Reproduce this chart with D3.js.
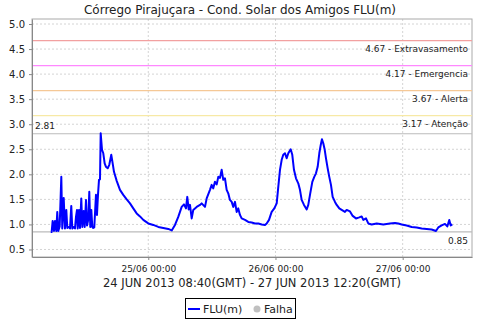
<!DOCTYPE html>
<html>
<head>
<meta charset="utf-8">
<script src="https://cdn.jsdelivr.net/npm/d3@7"></script>
<style>
body { margin: 0; background: #fff; }
text { font-family: "DejaVu Sans", sans-serif; fill: #222; }
</style>
</head>
<body>
<script>
// hours since 24/06/2013 00:00 (local time) and level in m
let hours = [5.59,5.77,5.96,6.21,6.40,6.64,6.83,7.02,7.28,7.59,7.77,8.04,8.28,8.53,8.72,8.98,9.23,9.47,9.66,9.93,
  10.17,10.36,10.55,10.68,10.93,11.11,11.36,11.55,11.81,12.00,12.25,12.44,12.68,12.87,13.06,13.25,13.44,13.62,13.81,
  14.13,14.32,14.51,14.70,14.89,15.02,15.27,15.51,15.77,16.02,16.34,16.64,17.02,17.28,17.53,18.04,18.66,19.28,19.93,
  20.55,21.17,21.81,22.44,23.06,24.00,24.94,25.89,26.83,27.77,28.42,29.04,29.66,30.30,30.74,31.11,31.36,31.62,31.87,
  32.19,32.49,33.13,33.76,34.07,34.70,35.02,35.64,35.96,36.26,36.58,36.91,37.21,37.53,37.85,38.15,38.47,38.79,39.09,
  39.41,39.74,40.04,40.36,40.68,40.98,41.30,41.62,42.25,42.87,43.51,44.13,44.76,45.40,46.02,46.34,46.78,47.28,47.78,
  48.23,48.53,48.85,49.17,49.47,49.79,50.11,50.42,50.87,51.17,51.49,51.87,52.30,52.62,52.94,53.38,53.89,54.19,54.51,
  54.95,55.32,55.64,55.96,56.27,56.53,56.77,57.02,57.29,57.53,57.85,58.15,58.47,58.79,59.23,59.55,60.04,60.49,61.11,
  61.43,62.06,62.57,63.19,63.81,64.26,64.57,65.08,65.51,66.15,67.10,68.34,69.60,70.55,71.17,71.81,72.75,73.70,74.64,
  75.58,76.53,77.47,78.28,78.72,79.36,79.98,80.42,80.79,81.06,81.36];
let flu = [0.85,0.85,1.07,0.87,1.07,0.87,1.25,0.87,0.96,1.95,0.92,1.53,0.92,1.29,0.93,0.95,0.92,1.37,0.92,0.95,
  0.92,1.15,1.29,0.92,1.29,0.93,1.52,0.95,1.27,0.95,1.49,0.98,1.10,1.65,0.95,1.29,0.95,0.93,0.94,
  1.59,1.19,1.59,1.89,1.90,2.82,2.49,2.42,2.22,2.15,2.12,2.19,2.39,2.22,2.05,1.87,1.69,1.59,1.50,
  1.42,1.32,1.22,1.16,1.09,1.02,0.99,0.95,0.93,0.91,0.88,0.99,1.15,1.35,1.40,1.32,1.55,1.30,1.39,
  1.12,1.29,1.35,1.39,1.42,1.35,1.52,1.69,1.79,1.72,1.85,1.80,1.95,1.93,2.09,1.89,1.92,1.69,1.62,
  1.49,1.45,1.35,1.45,1.25,1.32,1.19,1.12,1.09,1.05,1.04,1.02,1.02,1.00,0.99,1.02,1.09,1.25,1.32,
  1.42,1.75,2.09,2.29,2.39,2.42,2.32,2.42,2.50,2.39,2.09,1.92,1.82,1.69,1.49,1.39,1.30,1.39,1.59,
  1.85,1.95,2.02,2.15,2.42,2.58,2.70,2.62,2.49,2.32,2.12,1.95,1.79,1.55,1.45,1.39,1.32,1.29,1.25,
  1.29,1.26,1.17,1.12,1.14,1.16,1.09,1.12,1.02,1.00,1.02,1.00,1.02,1.03,1.02,1.00,0.98,0.95,0.94,
  0.92,0.91,0.90,0.87,0.94,0.98,1.01,0.96,1.09,0.98,1.00];

let thrValues = [4.67, 4.17, 3.67, 3.17];
let thrNames = ['Extravasamento', 'Emergencia', 'Alerta', 'Atenção'];
let thrColors = ['#f2a0a0', '#ff88ff', '#f5c896', '#f7e9a6'];

let yTicks = [0.5, 1.0, 1.5, 2.0, 2.5, 3.0, 3.5, 4.0, 4.5, 5.0];
let dayTicks = [24, 48, 72];
let dayLabels = ['25/06 00:00', '26/06 00:00', '27/06 00:00'];
let maxVal = 2.81, minVal = 0.85;

let title = 'Córrego Pirajuçara - Cond. Solar dos Amigos FLU(m)';
let subtitle = '24 JUN 2013 08:40(GMT) - 27 JUN 2013 12:20(GMT)';

let W = 480, H = 320;
let pLeft = 32, pRight = 472, pTop = 19, pBottom = 257;

function toDate(h) { return new Date(Date.UTC(2013, 5, 24) + h * 36e5); }

let svg = d3.select('body').append('svg')
    .attr('width', W)
    .attr('height', H);

let x = d3.scaleUtc()
    .domain([toDate(2.06), toDate(85.08)])
    .range([pLeft, pRight]);
let y = d3.scaleLinear()
    .domain([0.35, 5.1])
    .range([pBottom, pTop]);

// grid
svg.append('g').selectAll('line').data(yTicks).join('line')
    .attr('x1', pLeft).attr('x2', pRight)
    .attr('y1', d => y(d)).attr('y2', d => y(d))
    .attr('stroke', '#d4d4d4').attr('stroke-dasharray', '2,2');
svg.append('g').selectAll('line').data(dayTicks).join('line')
    .attr('x1', d => x(toDate(d))).attr('x2', d => x(toDate(d)))
    .attr('y1', pTop).attr('y2', pBottom)
    .attr('stroke', '#d4d4d4').attr('stroke-dasharray', '2,2');

// plot frame (right / top)
svg.append('rect')
    .attr('x', pLeft).attr('y', pTop)
    .attr('width', pRight - pLeft).attr('height', pBottom - pTop)
    .attr('fill', 'none').attr('stroke', '#aaa');

// thresholds
thrValues.forEach(function(v, i) {
    svg.append('line')
        .attr('x1', pLeft).attr('x2', pRight)
        .attr('y1', y(v)).attr('y2', y(v))
        .attr('stroke', thrColors[i]).attr('stroke-width', 1.2);
    svg.append('text')
        .attr('x', pRight - 4).attr('y', y(v) + 11)
        .attr('text-anchor', 'end')
        .style('font-size', '9px')
        .text(v.toFixed(2) + ' - ' + thrNames[i]);
});

// max / min markers
svg.append('line')
    .attr('x1', pLeft).attr('x2', pRight)
    .attr('y1', y(maxVal)).attr('y2', y(maxVal))
    .attr('stroke', '#bbb').attr('stroke-width', 1.2);
svg.append('text')
    .attr('x', pLeft + 3).attr('y', y(maxVal) - 5)
    .style('font-size', '9px')
    .text(maxVal.toFixed(2));
svg.append('line')
    .attr('x1', pLeft).attr('x2', pRight)
    .attr('y1', y(minVal)).attr('y2', y(minVal))
    .attr('stroke', '#bbb').attr('stroke-width', 1.2);
svg.append('text')
    .attr('x', pRight - 4).attr('y', y(minVal) + 12)
    .attr('text-anchor', 'end')
    .style('font-size', '9px')
    .text(minVal.toFixed(2));

// axes
let yAxis = svg.append('g')
    .attr('transform', 'translate(' + pLeft + ',0)')
    .call(d3.axisLeft(y).tickValues(yTicks).tickFormat(d3.format('.1f')).tickSize(3).tickSizeOuter(0));
yAxis.selectAll('text').style('font-size', '10px').attr('dx', '-1');
let xAxis = svg.append('g')
    .attr('transform', 'translate(0,' + pBottom + ')')
    .call(d3.axisBottom(x).tickValues(dayTicks.map(toDate))
        .tickFormat((d, i) => dayLabels[i]).tickSize(3).tickSizeOuter(0));
xAxis.selectAll('text').style('font-size', '9px').attr('dy', '0.95em');
svg.selectAll('.domain, .tick line').attr('stroke', '#888');

// series
let line = d3.line()
    .x((d, i) => x(toDate(hours[i])))
    .y(d => y(d));
svg.append('path')
    .datum(flu)
    .attr('d', line)
    .attr('fill', 'none')
    .attr('stroke', '#0000ff')
    .attr('stroke-width', 2)
    .attr('stroke-linejoin', 'round');

// titles
svg.append('text')
    .attr('x', W / 2).attr('y', 14)
    .attr('text-anchor', 'middle')
    .style('font-size', '12px')
    .text(title);
svg.append('text')
    .attr('x', (pLeft + pRight) / 2).attr('y', 287)
    .attr('text-anchor', 'middle')
    .style('font-size', '11.5px')
    .text(subtitle);

// legend
let lg = svg.append('g');
lg.append('rect')
    .attr('x', 185.5).attr('y', 298.5)
    .attr('width', 110).attr('height', 20)
    .attr('fill', '#fff').attr('stroke', '#000');
lg.append('line')
    .attr('x1', 188).attr('x2', 200)
    .attr('y1', 309).attr('y2', 309)
    .attr('stroke', '#0000ff').attr('stroke-width', 2);
lg.append('text')
    .attr('x', 203).attr('y', 313)
    .style('font-size', '11px')
    .text('FLU(m)');
lg.append('circle')
    .attr('cx', 257).attr('cy', 309).attr('r', 3.5)
    .attr('fill', '#c0c0c0');
lg.append('text')
    .attr('x', 264).attr('y', 313)
    .style('font-size', '11px')
    .text('Falha');
</script>
</body>
</html>
